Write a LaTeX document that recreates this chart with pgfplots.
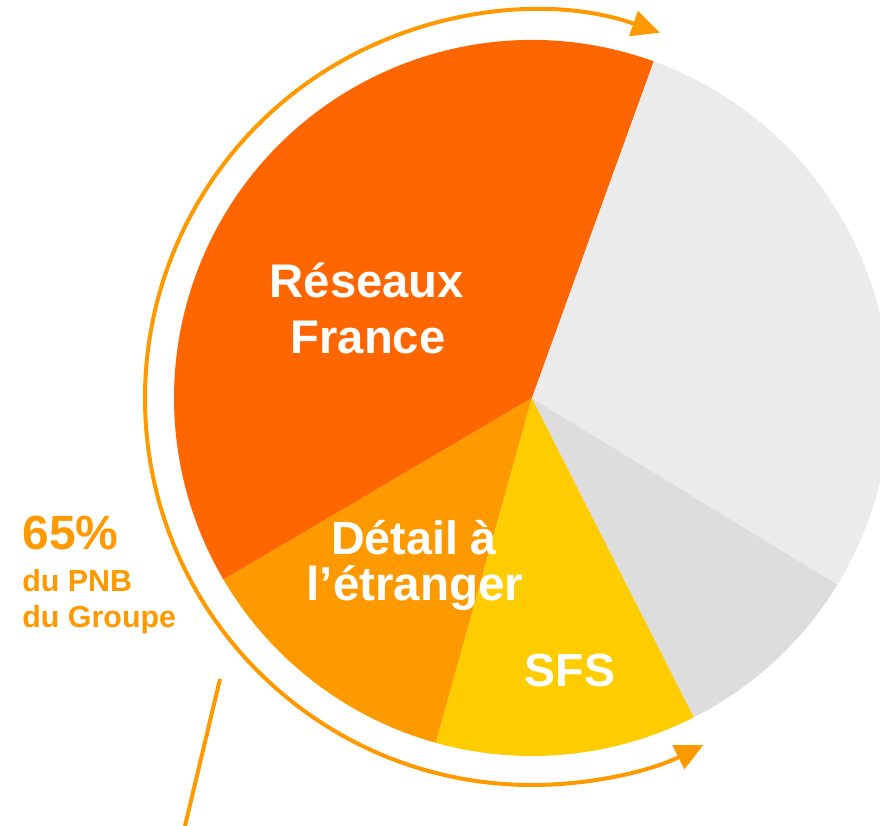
\documentclass[border=0pt]{standalone}
\usepackage{pgfplots}
\pgfplotsset{compat=1.18}
\usepackage{pgfplotstable}
\usepackage{fontspec}
\setmainfont{Liberation Sans}
\usetikzlibrary{arrows.meta}
\definecolor{cR}{HTML}{FF6600}
\definecolor{cD}{HTML}{FF9900}
\definecolor{cS}{HTML}{FFCC00}
\definecolor{cG}{HTML}{DDDDDD}
\definecolor{cL}{HTML}{EBEBEB}
\definecolor{cO}{HTML}{FF9900}
\pgfplotstableread{
name value color
R 39.0 cR
D 12.2 cD
S 11.8 cS
G 8.8 cG
L 28.2 cL
}\pietable
\begin{document}
\begin{tikzpicture}
\begin{axis}[
  x=0.5pt, y=0.5pt, scale only axis,
  xmin=0, xmax=880, ymin=0, ymax=826,
  hide axis, clip=true,
]
\pgfmathsetmacro\cum{70.1}
\pgfplotsforeachungrouped \i in {0,...,4}{%
  \pgfplotstablegetelem{\i}{value}\of\pietable
  \let\v\pgfplotsretval
  \pgfplotstablegetelem{\i}{color}\of\pietable
  \let\c\pgfplotsretval
  \pgfmathsetmacro\a{\cum}%
  \pgfmathsetmacro\b{\cum+\v*3.6}%
  \edef\temp{\noexpand\fill[\c] (axis cs:532,428) -- ++(\a:179pt) arc[start angle=\a, end angle=\b, radius=179pt] -- cycle;}%
  \temp
  \let\cum\b
}
% surrounding arc with arrows
\draw[cO, line width=2pt, -{Triangle[length=14pt,width=13pt]}] (axis cs:532,428) ++(180:193.5pt) arc[start angle=180, end angle=70.7, radius=193.5pt];
\draw[cO, line width=2pt, -{Triangle[length=14pt,width=13pt]}] (axis cs:532,428) ++(180:193.5pt) arc[start angle=180, end angle=296.3, radius=193.5pt];
% leader line
\addplot[cO, line width=2pt] coordinates {(220,147) (185,0)};
% labels
\node[white, font=\bfseries\fontsize{23.6}{23.6}\selectfont, anchor=base, inner sep=0pt] at (axis cs:367,528) {Réseaux};
\node[white, font=\bfseries\fontsize{23.6}{23.6}\selectfont, anchor=base, inner sep=0pt] at (axis cs:368,472) {France};
\node[white, font=\bfseries\fontsize{23.3}{23.3}\selectfont, anchor=base, inner sep=0pt] at (axis cs:414,271) {Détail à};
\node[white, font=\bfseries\fontsize{23.8}{23.8}\selectfont, anchor=base, inner sep=0pt] at (axis cs:415,225) {l’étranger};
\node[white, font=\bfseries\fontsize{23.2}{23.2}\selectfont, anchor=base, inner sep=0pt] at (axis cs:570,139) {SFS};
\node[cO, font=\bfseries\fontsize{24}{24}\selectfont, anchor=base west, inner sep=0pt] at (axis cs:22,276) {65\%};
\node[cO, font=\bfseries\fontsize{15.2}{15.2}\selectfont, anchor=base west, inner sep=0pt] at (axis cs:22,234) {du PNB};
\node[cO, font=\bfseries\fontsize{15.2}{15.2}\selectfont, anchor=base west, inner sep=0pt] at (axis cs:22,198) {du Groupe};
\end{axis}
\pgfresetboundingbox
\path (current axis.south west) rectangle (current axis.north east);
\end{tikzpicture}
\end{document}
